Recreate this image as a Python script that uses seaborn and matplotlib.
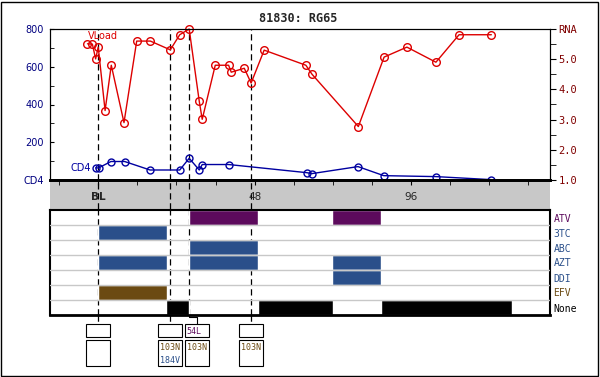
import numpy as np
import pandas as pd
import matplotlib
matplotlib.use('Agg')
import matplotlib.pyplot as plt
from matplotlib.ticker import MultipleLocator
from matplotlib.patches import Rectangle
import seaborn as sns

sns.set_style('white')
plt.rcParams['font.family'] = ['DejaVu Sans']

# --- data ---
title = '81830: RG65'

rna_weeks = [-3.3, -1.8, -0.8, 0.0, 2.1, 4.0, 7.9, 11.8, 16.0, 22.1, 25.0, 27.9, 31.0, 31.9,
             35.9, 40.0, 40.8, 44.8, 46.9, 50.9, 63.7, 65.6, 79.8, 87.7, 94.7, 103.6, 110.7, 120.6]
rna_values = [5.51, 5.50, 5.01, 5.40, 3.30, 4.80, 2.90, 5.60, 5.60, 5.31, 5.81, 6.00, 3.60, 3.01,
              4.80, 4.80, 4.57, 4.70, 4.21, 5.30, 4.80, 4.50, 2.77, 5.07, 5.40, 4.90, 5.81, 5.81]

cd4_weeks = [-0.8, 0.1, 3.9, 8.1, 15.9, 25.0, 27.9, 31.0, 31.9, 40.0, 63.9, 65.6, 79.7, 87.6, 103.6, 120.5]
cd4_values = [64, 64, 98, 98, 53, 53, 115, 53, 82, 82, 39, 34, 71, 23, 18, 2]

cd4_ticks = [0, 200, 400, 600, 800]
cd4_tick_labels = ['CD4', '200', '400', '600', '800']
rna_ticks = [1, 2, 3, 4, 5, 6]
rna_tick_labels = ['1.0', '2.0', '3.0', '4.0', '5.0', 'RNA']
week_ticks = [0, 48, 96]
week_tick_labels = ['BL', '48', '96']

drugs = ['ATV', '3TC', 'ABC', 'AZT', 'DDI', 'EFV', 'None']
drug_classes = ['PI', 'NRTI', 'NRTI', 'NRTI', 'NRTI', 'NNRTI', 'None']
atv_periods = [(27.9, 48.9), (71.7, 86.9)]
tc3_periods = [(0.0, 21.0)]
abc_periods = [(27.9, 48.9)]
azt_periods = [(0.0, 21.0), (27.9, 48.9), (71.7, 86.9)]
ddi_periods = [(71.7, 86.9)]
efv_periods = [(0.0, 21.0)]
none_periods = [(20.8, 27.9), (48.9, 72.0), (86.7, 126.8)]

geno_weeks = [0.0, 22.1, 27.9, 47.0]
pi_mutations = [[], [], ['54L'], []]
rt_mutations = [[], ['103N', '184V'], ['103N'], ['103N']]
nnrti_mutations = ['103N']

# --- styling ---
class_colors = {'PI': '#5c0a5c', 'NRTI': '#2a4f8a', 'NNRTI': '#6b4a12', 'None': 'black'}
red = '#dd0000'
blue = '#0000a0'
mono = 'DejaVu Sans Mono'
dash = (0, (5, 3))

W, H = 600, 377
xmin, xmax = -14.8, 138.6


def px_rect(l, t, r, b):
    return [l / W, 1 - b / H, (r - l) / W, (b - t) / H]


fig = plt.figure(figsize=(6, 3.77), dpi=100)

# gray band under the time axis
ax_b = fig.add_axes(px_rect(50, 180, 550, 209))
ax_b.set_facecolor('#c8c8c8')
ax_b.set_xlim(xmin, xmax)
ax_b.set_xticks([])
ax_b.set_yticks([])
for s in ax_b.spines.values():
    s.set_visible(False)

# CD4 / RNA panel
ax = fig.add_axes(px_rect(50, 29, 550, 180))
ax2 = ax.twinx()

sns.lineplot(x=cd4_weeks, y=cd4_values, ax=ax, color=blue, lw=1, marker='o', markersize=5,
             markerfacecolor='none', markeredgecolor=blue, markeredgewidth=1,
             estimator=None, sort=False)
sns.lineplot(x=rna_weeks, y=rna_values, ax=ax2, color=red, lw=1, marker='o', markersize=5.5,
             markerfacecolor='none', markeredgecolor=red, markeredgewidth=1,
             estimator=None, sort=False, clip_on=False)

ax.set_xlim(xmin, xmax)
ax.set_ylim(0, 800)
ax2.set_ylim(1, 6)

ax.set_yticks(cd4_ticks)
ax.set_yticklabels(cd4_tick_labels)
ax.yaxis.set_minor_locator(MultipleLocator(100))
ax.tick_params(axis='y', which='both', direction='in', length=3, color='black',
               labelcolor='#000080', labelsize=7, pad=4.5, left=True)

ax2.set_yticks(rna_ticks)
ax2.set_yticklabels(rna_tick_labels, family=mono)
ax2.yaxis.set_minor_locator(MultipleLocator(0.5))
ax2.tick_params(axis='y', which='both', direction='out', length=4, color='black',
                labelcolor='#800000', labelsize=7.5, pad=2, right=True)

ax.set_xticks(week_ticks)
ax.set_xticklabels(week_tick_labels)
ax.xaxis.set_minor_locator(MultipleLocator(12))
ax.tick_params(axis='x', which='both', direction='out', length=3.5, color='black',
               labelsize=7.5, pad=5, bottom=True)
ax.get_xticklabels()[0].set_fontweight('bold')

for a in (ax, ax2):
    for s in a.spines.values():
        s.set_color('black')
        s.set_linewidth(0.8)
    a.spines['bottom'].set_linewidth(2)
    a.set_xlabel('')
    a.set_ylabel('')

ax.annotate('VLoad', xy=(rna_weeks[0], rna_values[0]), xycoords=ax2.transData,
            xytext=(0, 3), textcoords='offset pixels', ha='left', va='bottom',
            color=red, fontsize=7)
ax.annotate('CD4', xy=(cd4_weeks[0], cd4_values[0]), xytext=(-5, 0),
            textcoords='offset pixels', ha='right', va='center', color=blue, fontsize=7)

# drug regimen panel
ax_d = fig.add_axes(px_rect(50, 210, 550, 315))
ax_d.set_xlim(xmin, xmax)
ax_d.set_ylim(len(drugs) - 0.5, -0.5)
drug_periods = [atv_periods, tc3_periods, abc_periods, azt_periods, ddi_periods, efv_periods, none_periods]
for i, (periods, cls) in enumerate(zip(drug_periods, drug_classes)):
    ax_d.broken_barh([(s, e - s) for s, e in periods], (i - 0.5, 1.0),
                     facecolors=class_colors[cls], zorder=2)
for i in range(len(drugs) - 1):
    ax_d.axhline(i + 0.5, color='#c8c8c8', lw=1, zorder=3)
ax_d.set_xticks([])
ax_d.set_yticks(range(len(drugs)))
ax_d.set_yticklabels(drugs, family=mono)
ax_d.yaxis.tick_right()
ax_d.tick_params(axis='y', length=0, labelsize=7, pad=2.5)
for lab, cls in zip(ax_d.get_yticklabels(), drug_classes):
    lab.set_color(class_colors[cls])
for s in ax_d.spines.values():
    s.set_color('black')
    s.set_linewidth(1.5)
ax_d.spines['bottom'].set_linewidth(2)

# genotype lines
for w in geno_weeks:
    for a in (ax, ax_b, ax_d):
        a.axvline(w, color='black', lw=0.9, ls=dash, zorder=1)

# mutation boxes (y in pixels)
ax_m = fig.add_axes(px_rect(50, 315, 550, 377))
ax_m.set_xlim(xmin, xmax)
ax_m.set_ylim(377, 315)
ax_m.axis('off')
px_per_week = 500 / (xmax - xmin)
box_w = 24 / px_per_week
gap = 2.6 / px_per_week
prev_right = -np.inf
for w, pim, rtm in zip(geno_weeks, pi_mutations, rt_mutations):
    c = max(w, prev_right + gap + box_w / 2)
    prev_right = c + box_w / 2
    if c == w:
        ax_m.plot([w, w], [315, 324], color='black', lw=0.9, ls=dash)
    else:
        ax_m.plot([w, w, c, c], [315, 317, 317, 324], color='black', lw=0.8)
    left = c - box_w / 2
    ax_m.add_patch(Rectangle((left, 324), box_w, 13, fill=False, edgecolor='black', lw=0.8))
    ax_m.add_patch(Rectangle((left, 340), box_w, 26, fill=False, edgecolor='black', lw=0.8))
    for k, m in enumerate(pim):
        ax_m.text(left + 2 / px_per_week, 331 + 13 * k, m, ha='left', va='center',
                  family=mono, fontsize=6, color=class_colors['PI'])
    for k, m in enumerate(rtm):
        col = class_colors['NNRTI'] if m in nnrti_mutations else class_colors['NRTI']
        ax_m.text(left + 2 / px_per_week, 347.5 + 13 * k, m, ha='left', va='center',
                  family=mono, fontsize=6, color=col)

fig.text(298.5 / W, 1 - 19 / H, title, ha='center', va='center', family=mono,
         fontweight='bold', fontsize=8.5)
fig.add_artist(Rectangle((1 / W, 1.5 / H), 596.5 / W, 374 / H, transform=fig.transFigure,
                         fill=False, edgecolor='black', lw=1))

plt.savefig('out.png', dpi=100)
